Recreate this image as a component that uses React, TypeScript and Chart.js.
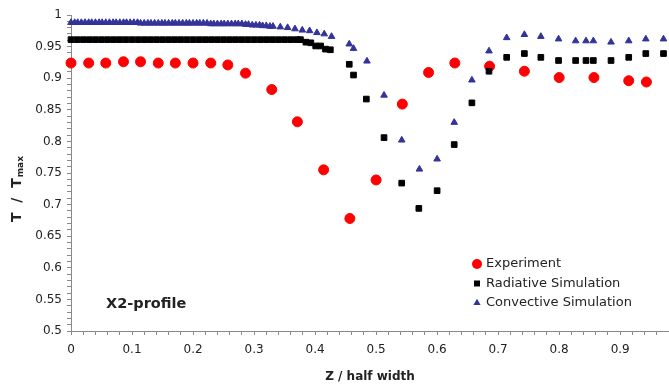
import React, { useEffect, useRef } from 'react';
import { Chart, registerables } from 'chart.js';

Chart.register(...registerables);

// ---------- data ----------
const expX = [0, 0.029, 0.057, 0.086, 0.114, 0.143, 0.171, 0.2, 0.229, 0.257, 0.286, 0.329, 0.371, 0.414, 0.457, 0.5, 0.543, 0.586, 0.629, 0.686, 0.743, 0.8, 0.857, 0.914, 0.943];
const expY = [0.924, 0.924, 0.924, 0.926, 0.926, 0.924, 0.924, 0.924, 0.924, 0.921, 0.908, 0.882, 0.831, 0.755, 0.678, 0.739, 0.859, 0.909, 0.924, 0.919, 0.911, 0.901, 0.901, 0.896, 0.894];

const radX = [0, 0.01, 0.02, 0.03, 0.04, 0.05, 0.06, 0.07, 0.08, 0.09, 0.1, 0.11, 0.12, 0.13, 0.14, 0.15, 0.16, 0.17, 0.18, 0.19, 0.2, 0.21, 0.22, 0.23, 0.24, 0.25, 0.26, 0.27, 0.28, 0.29, 0.3, 0.31, 0.32, 0.33, 0.34, 0.35, 0.36, 0.37, 0.376,
  0.385, 0.393, 0.401, 0.409, 0.417, 0.425, 0.456, 0.463, 0.484, 0.513, 0.542, 0.57, 0.6, 0.628, 0.657, 0.685, 0.714, 0.743, 0.77, 0.799, 0.827, 0.844, 0.856, 0.885, 0.914, 0.942, 0.971];
const radY = [0.961, 0.961, 0.961, 0.961, 0.961, 0.961, 0.961, 0.961, 0.961, 0.961, 0.961, 0.961, 0.961, 0.961, 0.961, 0.961, 0.961, 0.961, 0.961, 0.961, 0.961, 0.961, 0.961, 0.961, 0.961, 0.961, 0.961, 0.961, 0.961, 0.961, 0.961, 0.961, 0.961, 0.961, 0.961, 0.961, 0.961, 0.961, 0.961,
  0.957, 0.956, 0.951, 0.951, 0.946, 0.945, 0.922, 0.905, 0.867, 0.806, 0.734, 0.694, 0.722, 0.795, 0.861, 0.911, 0.933, 0.939, 0.933, 0.928, 0.928, 0.928, 0.928, 0.928, 0.933, 0.939, 0.939];

const convX = [0, 0.006, 0.011, 0.017, 0.023, 0.029, 0.034, 0.04, 0.046, 0.051, 0.057, 0.063, 0.069, 0.074, 0.08, 0.086, 0.091, 0.097, 0.103, 0.109, 0.114, 0.12, 0.126, 0.131, 0.137, 0.143, 0.149, 0.154, 0.16, 0.166, 0.171, 0.177, 0.183, 0.189, 0.194, 0.2, 0.206, 0.211, 0.217, 0.223, 0.229, 0.234, 0.24, 0.246, 0.251, 0.257, 0.263, 0.269, 0.274, 0.28, 0.286, 0.291, 0.297, 0.303, 0.309, 0.314, 0.32, 0.326, 0.331,
  0.343, 0.355, 0.367, 0.379, 0.391, 0.403, 0.415, 0.427, 0.456, 0.463, 0.485, 0.513, 0.542, 0.571, 0.6, 0.628, 0.657, 0.685, 0.714, 0.743, 0.77, 0.799, 0.827, 0.844, 0.856, 0.885, 0.914, 0.942, 0.971];
const convY = [0.988, 0.988, 0.988, 0.988, 0.988, 0.988, 0.988, 0.988, 0.988, 0.988, 0.988, 0.988, 0.988, 0.988, 0.988, 0.988, 0.988, 0.988, 0.988, 0.988, 0.987, 0.987, 0.987, 0.987, 0.987, 0.987, 0.987, 0.987, 0.987, 0.987, 0.987, 0.987, 0.987, 0.987, 0.987, 0.987, 0.987, 0.987, 0.987, 0.987, 0.986, 0.986, 0.986, 0.986, 0.986, 0.986, 0.986, 0.986, 0.986, 0.986, 0.985, 0.985, 0.984, 0.984, 0.984, 0.983, 0.983, 0.982, 0.982,
  0.981, 0.98, 0.978, 0.976, 0.975, 0.972, 0.97, 0.966, 0.954, 0.947, 0.927, 0.873, 0.802, 0.756, 0.772, 0.83, 0.897, 0.943, 0.964, 0.969, 0.966, 0.962, 0.959, 0.959, 0.959, 0.957, 0.959, 0.962, 0.962];

const seriesNames = ['Experiment', 'Radiative Simulation', 'Convective Simulation'];
const xLabelTicks = [0, 0.1, 0.2, 0.3, 0.4, 0.5, 0.6, 0.7, 0.8, 0.9];
const yLabelTicks = [0.5, 0.55, 0.6, 0.65, 0.7, 0.75, 0.8, 0.85, 0.9, 0.95, 1];
const profileLabel = 'X2-profile';

// ---------- styles ----------
const FONT = '"DejaVu Sans", Arial, sans-serif';
const TEXT = '#222222';
const AXIS = '#8a8a8a';
const RED = '#ff0000';
const BLACK = '#000000';
const BLUE = '#333399';

const toPts = (xs: number[], ys: number[]) => xs.map((x, i) => ({ x, y: ys[i] }));

const pickLabel = (list: number[], v: number) => {
  const hit = list.find((t) => Math.abs(t - v) < 1e-6);
  return hit === undefined ? '' : String(hit);
};

const zeroPad = (s: any) => {
  s.paddingLeft = 0;
  s.paddingRight = 0;
  s.paddingTop = 0;
  s.paddingBottom = 0;
};

const overlayPlugin = {
  id: 'overlay',
  afterDraw(chart: any) {
    const ctx = chart.ctx as CanvasRenderingContext2D;
    const area = chart.chartArea;

    // Y axis title with subscript
    ctx.save();
    ctx.fillStyle = TEXT;
    ctx.translate(21, 222);
    ctx.rotate(-Math.PI / 2);
    ctx.textAlign = 'left';
    ctx.textBaseline = 'alphabetic';
    ctx.font = `bold 14px ${FONT}`;
    const main = 'T  /  T';
    ctx.fillText(main, 0, 0);
    const w = ctx.measureText(main).width;
    ctx.font = `bold 9px ${FONT}`;
    ctx.fillText('max', w + 1, 2);
    ctx.restore();

    // profile label
    ctx.save();
    ctx.fillStyle = TEXT;
    ctx.font = `bold 14.5px ${FONT}`;
    ctx.textAlign = 'left';
    ctx.textBaseline = 'middle';
    ctx.fillText(profileLabel, area.left + 35, area.bottom - 27);
    ctx.restore();

    // legend
    const lx = area.left + 406;
    const ly0 = area.bottom - 67;
    const gap = 19.5;
    chart.data.datasets.forEach((ds: any, i: number) => {
      const y = ly0 + i * gap;
      ctx.save();
      ctx.fillStyle = ds.backgroundColor;
      ctx.beginPath();
      if (ds.pointStyle === 'circle') {
        ctx.arc(lx, y, 5, 0, Math.PI * 2);
      } else if (ds.pointStyle === 'rect') {
        ctx.rect(lx - 3, y - 3, 6, 6);
      } else {
        const r = 4.2;
        ctx.moveTo(lx, y - r);
        ctx.lineTo(lx + r * 0.866, y + r * 0.5);
        ctx.lineTo(lx - r * 0.866, y + r * 0.5);
        ctx.closePath();
      }
      ctx.fill();
      ctx.fillStyle = TEXT;
      ctx.font = `13px ${FONT}`;
      ctx.textAlign = 'left';
      ctx.textBaseline = 'middle';
      ctx.fillText(ds.label, lx + 9, y);
      ctx.restore();
    });
  },
};

export default function App() {
  const ref = useRef<HTMLCanvasElement | null>(null);

  useEffect(() => {
    if (!ref.current) return;
    const chart = new Chart(ref.current, {
      type: 'scatter',
      data: {
        datasets: [
          {
            label: seriesNames[0],
            data: toPts(expX, expY),
            pointStyle: 'circle',
            pointRadius: 5,
            pointBorderWidth: 1,
            backgroundColor: RED,
            borderColor: RED,
            order: 2,
            clip: false,
          },
          {
            label: seriesNames[1],
            data: toPts(radX, radY),
            pointStyle: 'rect',
            pointRadius: 4,
            pointBorderWidth: 1,
            backgroundColor: BLACK,
            borderColor: BLACK,
            order: 1,
            clip: false,
          },
          {
            label: seriesNames[2],
            data: toPts(convX, convY),
            pointStyle: 'triangle',
            pointRadius: 3.8,
            pointBorderWidth: 1,
            backgroundColor: BLUE,
            borderColor: BLUE,
            order: 0,
            clip: false,
          },
        ] as any,
      },
      options: {
        animation: false,
        responsive: false,
        maintainAspectRatio: false,
        layout: { autoPadding: false, padding: { top: 15, right: 0, bottom: 0, left: 0 } },
        plugins: {
          legend: { display: false },
          tooltip: { enabled: false },
        },
        scales: {
          x: {
            type: 'linear',
            min: 0,
            max: 0.98,
            afterFit: (s: any) => {
              s.height = 56;
              zeroPad(s);
            },
            border: { display: true, color: AXIS, width: 1 },
            grid: { drawOnChartArea: false, drawTicks: true, tickLength: 4, color: AXIS },
            ticks: {
              stepSize: 0.02,
              autoSkip: false,
              maxRotation: 0,
              minRotation: 0,
              padding: 8,
              color: TEXT,
              font: { family: FONT, size: 12 },
              callback: (v: any) => pickLabel(xLabelTicks, Number(v)),
            },
            title: {
              display: true,
              text: 'Z / half width',
              color: TEXT,
              font: { family: FONT, size: 12, weight: 'bold' },
              padding: { top: 0, bottom: 3 },
            },
          },
          y: {
            type: 'linear',
            min: 0.5,
            max: 1,
            afterFit: (s: any) => {
              s.width = 71;
              zeroPad(s);
            },
            border: { display: true, color: AXIS, width: 1 },
            grid: { drawOnChartArea: false, drawTicks: true, tickLength: 4, color: AXIS },
            ticks: {
              stepSize: 0.01,
              autoSkip: false,
              padding: 5,
              color: TEXT,
              font: { family: FONT, size: 12 },
              callback: (v: any) => pickLabel(yLabelTicks, Number(v)),
            },
          },
        },
      } as any,
      plugins: [overlayPlugin],
    });
    return () => chart.destroy();
  }, []);

  return (
    <div style={{ position: 'absolute', left: 0, top: 0, width: 669, height: 387, background: '#fff' }}>
      <canvas ref={ref} width={669} height={387} style={{ display: 'block', width: 669, height: 387 }} />
    </div>
  );
}
